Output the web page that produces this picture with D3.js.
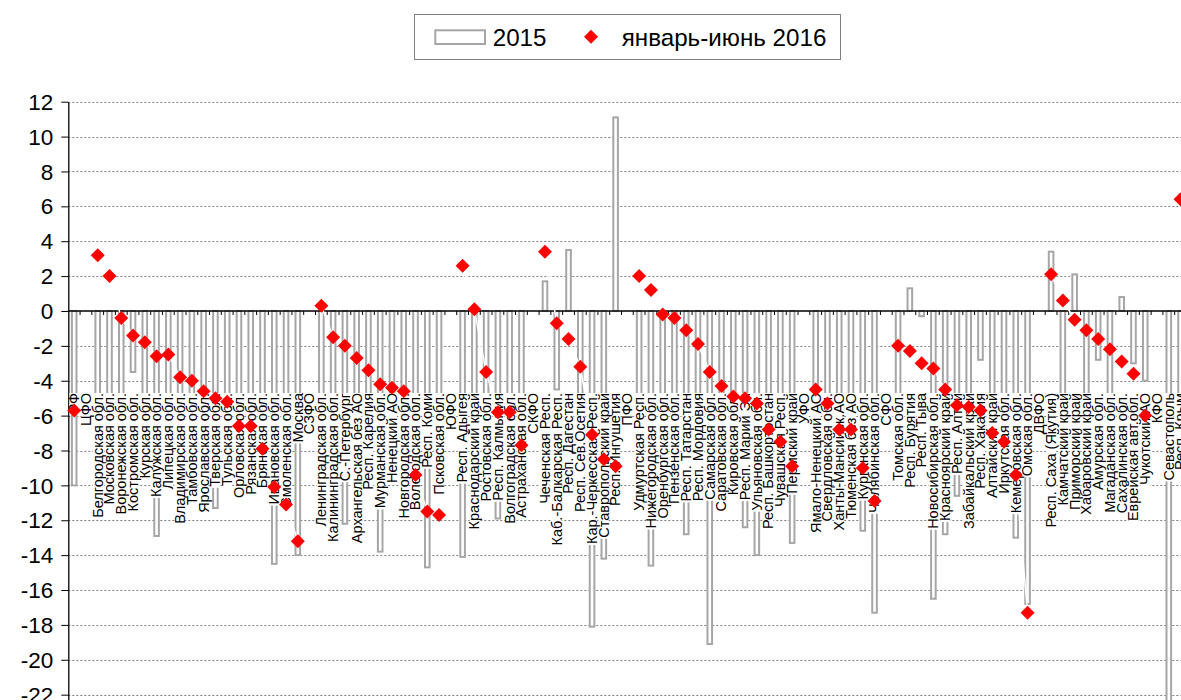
<!DOCTYPE html>
<html><head><meta charset="utf-8">
<script src="https://cdn.jsdelivr.net/npm/d3@7"></script>
<style>body{margin:0;background:#fff;overflow:hidden;} svg{display:block;}</style>
</head><body>
<svg id="chart" width="1181" height="700"></svg>
<script>
const categories = ["РФ","ЦФО","Белгородская обл.","Московская обл.","Воронежская обл.","Костромская обл.","Курская обл.","Калужская обл.","Липецкая обл.","Владимирская обл.","Тамбовская обл.","Ярославская обл.","Тверская обл.","Тульская обл.","Орловская обл.","Рязанская обл.","Брянская обл.","Ивановская обл.","Смоленская обл.","Москва",
"СЗФО","Ленинградская обл.","Калининградская обл.","С.-Петербург","Архангельская без АО","Респ. Карелия","Мурманская обл.","Ненецкий АО","Новгородская обл.","Вологодская обл.","Респ. Коми","Псковская обл.",
"ЮФО","Респ. Адыгея","Краснодарский край","Ростовская обл.","Респ. Калмыкия","Волгоградская обл.","Астраханская обл.",
"СКФО","Чеченская Респ.","Каб.-Балкарская Респ.","Респ. Дагестан","Респ. Сев.Осетия","Кар.-Черкесская Респ.","Ставропольский край","Респ. Ингушетия",
"ПФО","Удмуртская Респ.","Нижегородская обл.","Оренбургская обл.","Пензенская обл.","Респ. Татарстан","Респ. Мордовия","Самарская обл.","Саратовская обл.","Кировская обл.","Респ. Марий Эл","Ульяновская обл.","Респ. Башкортостан","Чувашская Респ.","Пермский край",
"УФО","Ямало-Ненецкий АО","Свердловская обл.","Ханты-Мансийск.АО","Тюменская без АО","Курганская обл.","Челябинская обл.",
"СФО","Томская обл.","Респ. Бурятия","Респ. Тыва","Новосибирская обл.","Красноярский край","Респ. Алтай","Забайкальский край","Респ. Хакасия","Алтайский край","Иркутская обл.","Кемеровская обл.","Омская обл.",
"ДВФО","Респ. Саха (Якутия)","Камчатский край","Приморский край","Хабаровский край","Амурская обл.","Магаданская обл.","Сахалинская обл.","Еврейская авт.обл.","Чукотский АО",
"КФО","Севастополь","Респ. Крым"];

const values2015 = [-10.0,null,-8.5,-9.0,-8.0,-3.5,-7.5,-12.9,-7.0,-9.5,-8.5,-9.5,-11.3,-7.0,-8.0,-7.5,-7.0,-14.5,-9.5,-14.0,
null,-9.0,-11.0,-12.2,-10.0,-7.5,-13.8,-6.5,-8.5,-9.0,-14.7,-8.0,
null,-14.1,-9.0,-8.5,-11.9,-9.5,-8.0,
null,1.7,-4.5,3.5,-7.0,-18.1,-14.2,11.1,
null,-9.0,-14.6,-8.5,-8.0,-12.8,-7.5,-19.1,-9.0,-8.0,-12.4,-14.0,-9.0,-8.0,-13.3,
null,-9.5,-9.0,-9.5,-8.5,-12.6,-17.3,
null,-4.9,1.3,-0.3,-16.5,-12.8,-10.6,-9.0,-2.8,-8.0,-8.5,-13.0,-16.8,
null,3.4,-8.0,2.1,-8.5,-2.8,-9.0,0.8,-3.0,-4.0,
null,-24.0,-7.0];

const values2016 = [-5.7,null,3.2,2.0,-0.4,-1.4,-1.8,-2.6,-2.5,-3.8,-4.0,-4.6,-5.0,-5.2,-6.6,-6.6,-7.9,-10.1,-11.1,-13.2,
null,0.3,-1.5,-2.0,-2.7,-3.4,-4.2,-4.4,-4.6,-9.4,-11.5,-11.7,
null,2.6,0.1,-3.5,-5.8,-5.8,-7.7,
null,3.4,-0.7,-1.6,-3.2,-7.1,-8.5,-8.9,
null,2.0,1.2,-0.2,-0.4,-1.1,-1.9,-3.5,-4.3,-4.9,-5.0,-5.3,-6.8,-7.5,-8.9,
null,-4.5,-5.3,-6.8,-6.8,-9.0,-10.9,
null,-2.0,-2.3,-3.0,-3.3,-4.5,-5.4,-5.5,-5.7,-7.0,-7.5,-9.4,-17.3,
null,2.1,0.6,-0.5,-1.1,-1.6,-2.2,-2.9,-3.6,-6.0,
null,null,6.4];

const yTickValues = [12,10,8,6,4,2,0,-2,-4,-6,-8,-10,-12,-14,-16,-18,-20,-22];
const yTickLabels = ["12","10","8","6","4","2","0","-2","-4","-6","-8","-10","-12","-14","-16","-18","-20","-22"];
const seriesNames = ["2015","январь-июнь 2016"];

const svg = d3.select("#chart");
const W = 1181, H = 700;
const plotLeft = 68.3, step = 11.77;
const plotRight = plotLeft + step * categories.length;
const labelTop = 393;
const font = "'Liberation Sans', Arial, sans-serif";

const x = d3.scaleBand().domain(categories).range([plotLeft, plotRight]).padding(0);
const y = d3.scaleLinear().domain([-26, 12]).range([101.7 + 38 * 17.44, 101.7]);
const cx = c => x(c) + x.bandwidth() / 2;
const snap = v => Math.round(v) + 0.5;

const data = categories.map((c, i) => ({ c, a: values2015[i], b: values2016[i] }));

// gridlines
svg.append("g").selectAll("line").data(yTickValues.filter(v => v !== 0)).join("line")
  .attr("x1", plotLeft).attr("x2", plotRight)
  .attr("y1", d => snap(y(d))).attr("y2", d => snap(y(d)))
  .attr("stroke", "#808080").attr("stroke-width", 1).attr("stroke-dasharray", "2,2");

// bars 2015
const bw = 4.6;
svg.append("g").selectAll("rect").data(data.filter(d => d.a != null)).join("rect")
  .attr("x", d => cx(d.c) - bw / 2).attr("width", bw)
  .attr("y", d => y(Math.max(0, d.a)))
  .attr("height", d => Math.abs(y(d.a) - y(0)))
  .attr("fill", "#fff").attr("stroke", "#a6a6a6").attr("stroke-width", 2);

// zero line and category boundary ticks
svg.append("line").attr("x1", plotLeft).attr("x2", plotRight)
  .attr("y1", y(0)).attr("y2", y(0)).attr("stroke", "#000").attr("stroke-width", 1.3);
svg.append("g").selectAll("line").data(categories.slice(1)).join("line")
  .attr("x1", d => x(d)).attr("x2", d => x(d))
  .attr("y1", y(0)).attr("y2", y(0) + 4).attr("stroke", "#000").attr("stroke-width", 1);

// y axis
const yAxis = d3.axisLeft(y).tickValues(yTickValues)
  .tickFormat((d, i) => yTickLabels[i]).tickSize(7).tickSizeOuter(0).tickPadding(8);
const ga = svg.append("g").attr("transform", `translate(${plotLeft},0)`).call(yAxis);
ga.select(".domain").attr("stroke", "#000").attr("stroke-width", 1.3);
ga.selectAll(".tick line").attr("stroke", "#000");
ga.selectAll(".tick text").attr("font-family", font).attr("font-size", 22.5)
  .attr("fill", "#000").attr("dy", "0.34em");

// category labels: background layer, line layer, text layer
const bgLayer = svg.append("g");
const lineLayer = svg.append("g");
const txtLayer = svg.append("g");
const lt = d => `translate(${cx(d.c)},${labelTop}) rotate(-90) scale(1,0.95)`;
const texts = txtLayer.selectAll("text").data(data).join("text")
  .attr("transform", lt)
  .attr("text-anchor", "end").attr("dominant-baseline", "central")
  .attr("font-family", font).attr("font-size", 14.5).attr("fill", "#000")
  .text(d => d.c);
texts.each(function(d) {
  const len = this.getComputedTextLength();
  bgLayer.append("rect").attr("transform", lt(d))
    .attr("x", -len - 1).attr("width", len + 1).attr("y", -5).attr("height", 10)
    .attr("fill", "#fff");
});

// faint white connecting line of 2016 series
lineLayer.append("path").datum(data)
  .attr("d", d3.line().defined(d => d.b != null).x(d => cx(d.c)).y(d => y(d.b)))
  .attr("fill", "none").attr("stroke", "#fff").attr("stroke-width", 1.5);

// diamonds 2016
const diamond = d3.symbol().type(d3.symbolSquare).size(98);
svg.append("g").selectAll("path").data(data.filter(d => d.b != null)).join("path")
  .attr("d", diamond)
  .attr("transform", d => `translate(${cx(d.c)},${y(d.b)}) rotate(45)`)
  .attr("fill", "#ff0000");

// legend
const lg = svg.append("g");
lg.append("rect").attr("x", 414.5).attr("y", 14.5).attr("width", 426).attr("height", 45)
  .attr("fill", "#fff").attr("stroke", "#7f7f7f").attr("stroke-width", 1);
lg.append("rect").attr("x", 435.3).attr("y", 30.3).attr("width", 49.7).attr("height", 13.7)
  .attr("fill", "#fff").attr("stroke", "#a6a6a6").attr("stroke-width", 2);
lg.append("text").attr("x", 492.7).attr("y", 45.5).attr("font-family", font)
  .attr("font-size", 24.2).attr("fill", "#000").text(seriesNames[0]);
lg.append("path").attr("d", diamond).attr("transform", "translate(591,36.7) rotate(45)")
  .attr("fill", "#ff0000");
lg.append("text").attr("x", 621.7).attr("y", 45.5).attr("font-family", font)
  .attr("font-size", 24.2).attr("fill", "#000").text(seriesNames[1]);
</script>
</body></html>
